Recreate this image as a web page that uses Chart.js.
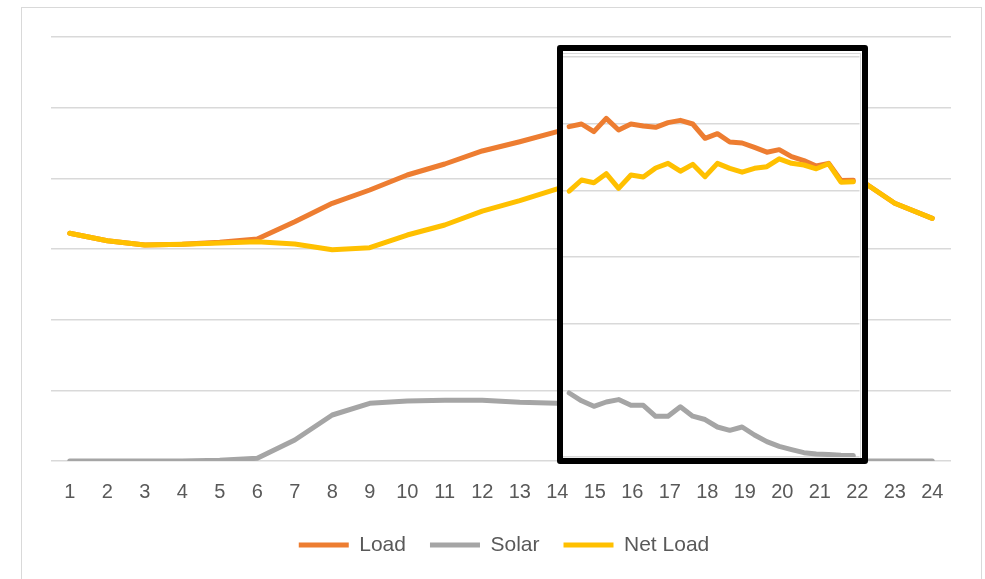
<!DOCTYPE html>
<html>
<head>
<meta charset="utf-8">
<script src="https://cdn.jsdelivr.net/npm/chart.js@4.4.1/dist/chart.umd.min.js"></script>
<style>
  html, body { margin: 0; padding: 0; background: #ffffff; }
  #wrap { position: relative; width: 985px; height: 579px; overflow: hidden; background: #ffffff; }
  #frame { position: absolute; left: 21px; top: 7px; width: 961px; height: 620px; border: 1px solid #d9d9d9; box-sizing: border-box; pointer-events: none; }
  #main { position: absolute; left: 0; top: 0; }
  #inset { position: absolute; left: 557px; top: 45px; width: 311px; height: 419px; box-sizing: border-box;
           border: 6px solid #000000; border-radius: 3px; background: #ffffff; overflow: hidden; }
  #insetFrame { position: absolute; left: 0; top: 2px; right: 1px; bottom: 0; border-top: 1px solid #d9d9d9; border-right: 1px solid #d9d9d9; pointer-events: none; }
  #insetCanvas { position: absolute; left: 0; top: 0; }
</style>
</head>
<body>
<div id="wrap">
  <div id="frame"></div>
  <canvas id="main" width="985" height="579"></canvas>
  <div id="inset">
    <canvas id="insetCanvas" width="299" height="407"></canvas>
    <div id="insetFrame"></div>
  </div>
</div>
<script>
// ---- Hourly data (main chart) ----
const hours = ['1','2','3','4','5','6','7','8','9','10','11','12','13','14','15','16','17','18','19','20','21','22','23','24'];
const loadHourly  = [3222,3117,3056,3066,3095,3140,3386,3647,3835,4047,4203,4387,4518,4660,4797,4825,4853,4754,4570,4401,4188,4005,3647,3434];
const solarHourly = [0,0,0,0,10,38,297,651,816,849,859,859,831,816,720,650,560,420,260,110,30,0,0,0];
const netHourly   = [3222,3117,3056,3066,3085,3102,3070,2990,3019,3198,3340,3535,3685,3850,4077,4175,4293,4334,4310,4291,4158,4005,3647,3434];

// ---- 20-minute data (inset, 14:20 - 22:00) ----
const insetTimes = ['14:20','14:40','15:00','15:20','15:40','16:00','16:20','16:40','17:00','17:20','17:40','18:00',
                    '18:20','18:40','19:00','19:20','19:40','20:00','20:20','20:40','21:00','21:20','21:40','22:00'];
const insetLoad  = [4955,4995,4880,5080,4905,4995,4965,4945,5015,5050,4995,4780,4850,4725,4710,4643,4572,4610,4505,4445,4365,4405,4149,4152];
const insetSolar = [960,843,760,825,861,775,775,610,610,753,612,562,450,400,450,330,230,160,111,65,45,37,27,22];
const insetNet   = [3987,4155,4113,4250,4030,4230,4200,4335,4405,4287,4390,4205,4405,4330,4272,4330,4355,4473,4405,4380,4323,4398,4122,4130];

const seriesNames = ['Load', 'Solar', 'Net Load'];
const seriesColors = ['#ED7D31', '#A5A5A5', '#FFC000'];
const FONT = "'Liberation Sans', Arial, sans-serif";

function ds(label, data, color, order) {
  return {
    label, data, borderColor: color, backgroundColor: color,
    borderWidth: 5, pointRadius: 0, pointHoverRadius: 0, tension: 0,
    borderCapStyle: 'round', borderJoinStyle: 'round', pointStyle: 'line',
    fill: false, order
  };
}

new Chart(document.getElementById('main'), {
  type: 'line',
  data: {
    labels: hours,
    datasets: [
      ds(seriesNames[0], loadHourly, seriesColors[0], 2),
      ds(seriesNames[1], solarHourly, seriesColors[1], 1),
      ds(seriesNames[2], netHourly, seriesColors[2], 0)
    ]
  },
  options: {
    responsive: false,
    animation: false,
    layout: { padding: { left: 23, right: 0, top: 37, bottom: 13.5 } },
    scales: {
      x: {
        type: 'category', offset: true,
        grid: { display: false, drawTicks: false },
        border: { display: false },
        ticks: { color: '#595959', font: { family: FONT, size: 20 }, padding: 19, maxRotation: 0, autoSkip: false },
        afterFit: (s) => { s.height = 49.5; }
      },
      y: {
        min: 0, max: 6000,
        ticks: { display: false, stepSize: 1000 },
        grid: { color: '#d9d9d9', lineWidth: 1.5, drawTicks: false },
        border: { display: false },
        afterFit: (s) => { s.width = 28; }
      },
      yR: {
        position: 'right', min: 0, max: 6000,
        ticks: { display: false },
        grid: { display: false, drawTicks: false },
        border: { display: false },
        afterFit: (s) => { s.width = 34; }
      }
    },
    plugins: {
      tooltip: { enabled: false },
      legend: {
        position: 'bottom',
        labels: {
          usePointStyle: true, pointStyle: 'line', pointStyleWidth: 50,
          color: '#595959', font: { family: FONT, size: 21 }, padding: 24,
          sort: (a, b) => a.datasetIndex - b.datasetIndex
        }
      }
    }
  }
});

new Chart(document.getElementById('insetCanvas'), {
  type: 'line',
  data: {
    labels: insetTimes,
    datasets: [
      ds(seriesNames[0], insetLoad, seriesColors[0], 2),
      ds(seriesNames[1], insetSolar, seriesColors[1], 1),
      ds(seriesNames[2], insetNet, seriesColors[2], 0)
    ]
  },
  options: {
    responsive: false,
    animation: false,
    layout: { padding: { left: 0, right: 2.5, top: 6, bottom: 1 } },
    scales: {
      x: { type: 'category', offset: true, display: false },
      y: {
        min: 0, max: 6000,
        ticks: { display: false, stepSize: 1000 },
        grid: { color: '#d9d9d9', lineWidth: 1.5, drawTicks: false },
        border: { display: false },
        afterFit: (s) => { s.width = 0; }
      }
    },
    plugins: { legend: { display: false }, tooltip: { enabled: false } }
  }
});
</script>
</body>
</html>
